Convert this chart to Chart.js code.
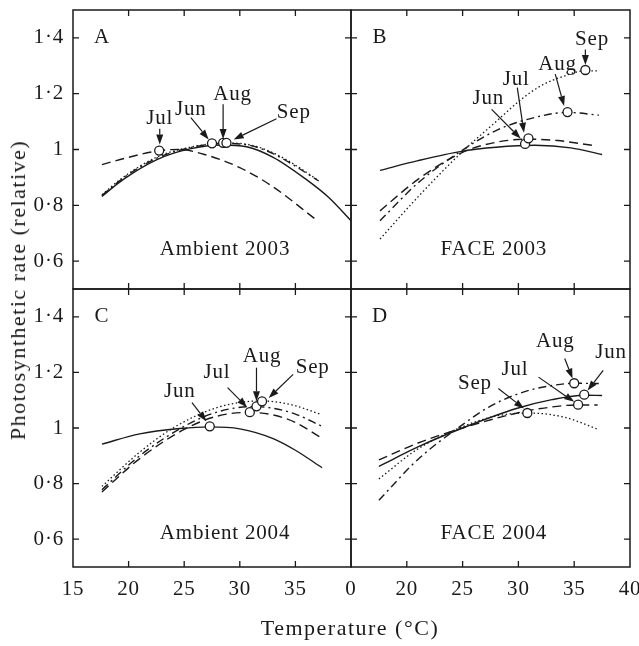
<!DOCTYPE html>
<html>
<head>
<meta charset="utf-8">
<script src="https://cdn.jsdelivr.net/npm/chart.js@4.4.1/dist/chart.umd.min.js"></script>
<style>
  html, body { margin: 0; padding: 0; background: #fff; }
  #wrap { position: relative; width: 639px; height: 646px; overflow: hidden; }
  #wrap canvas { position: absolute; left: 0; top: 0; }
  .ttl { position: absolute; font: 22px "Liberation Serif", serif; letter-spacing: 1.5px; white-space: nowrap; color: #1a1a1a; }
  #ytitle { left: 18px; top: 290px; transform: translate(-50%, -50%) rotate(-90deg); }
  #xtitle { left: 350px; top: 628px; transform: translate(-50%, -50%); }
</style>
</head>
<body>
<div id="wrap">
  <canvas id="panelA" width="639" height="646"></canvas>
  <canvas id="panelB" width="639" height="646"></canvas>
  <canvas id="panelC" width="639" height="646"></canvas>
  <canvas id="panelD" width="639" height="646"></canvas>
  <div class="ttl" id="ytitle">Photosynthetic rate (relative)</div>
  <div class="ttl" id="xtitle">Temperature (°C)</div>
</div>
<script>
// ticks
var tempTicks = [15, 20, 25, 30, 35, 40];
var rateTicks = [0.6, 0.8, 1.0, 1.2, 1.4];
var months = ['Jun', 'Jul', 'Aug', 'Sep'];

// A - Ambient 2003
var tA_Jun = [17.6, 19.5, 22.5, 25.5, 28.3, 30.6, 33, 36, 38, 40];
var rA_Jun = [0.832, 0.892, 0.963, 1.002, 1.016, 1.01, 0.972, 0.892, 0.828, 0.745];
var tA_Jul = [17.6, 20, 22.75, 24.5, 27, 30, 33, 36.8];
var rA_Jul = [0.946, 0.972, 0.996, 1.0, 0.98, 0.935, 0.866, 0.75];
var tA_Aug = [17.6, 19.5, 22.5, 25.5, 28.5, 31, 33, 35, 37.1];
var rA_Aug = [0.835, 0.897, 0.968, 1.006, 1.022, 1.014, 0.985, 0.94, 0.887];
var tA_Sep = [17.6, 19.5, 22.5, 25.5, 28.8, 31, 33, 35, 37.1];
var rA_Sep = [0.838, 0.9, 0.972, 1.008, 1.023, 1.016, 0.988, 0.944, 0.888];
var optTA = [27.5, 22.75, 28.5, 28.8];
var optRA = [1.022, 0.996, 1.024, 1.024];

// B - FACE 2003
var tB_Jun = [17.6, 21, 25, 28, 31.5, 34.7, 37.5];
var rB_Jun = [0.925, 0.96, 0.994, 1.008, 1.015, 1.006, 0.982];
var tB_Jul = [17.6, 21, 25, 28, 30.9, 33.5, 36.6];
var rB_Jul = [0.78, 0.893, 0.99, 1.026, 1.037, 1.032, 1.015];
var tB_Aug = [17.6, 21, 25, 28, 31, 34.4, 37.2];
var rB_Aug = [0.745, 0.88, 0.998, 1.068, 1.11, 1.133, 1.123];
var tB_Sep = [17.6, 21, 25, 28, 30.2, 32, 34, 36, 37.2];
var rB_Sep = [0.679, 0.83, 0.993, 1.1, 1.178, 1.228, 1.262, 1.282, 1.282];
var optTB = [30.6, 30.9, 34.4, 36.0];
var optRB = [1.02, 1.04, 1.134, 1.285];

// C - Ambient 2004
var tC_Jun = [17.6, 21, 24.6, 27.3, 30, 33, 35, 37.4];
var rC_Jun = [0.942, 0.979, 0.998, 1.004, 0.997, 0.962, 0.92, 0.857];
var tC_Jul = [17.6, 21, 25, 28, 30.7, 33, 35, 37.2];
var rC_Jul = [0.77, 0.89, 0.995, 1.043, 1.056, 1.047, 1.02, 0.968];
var tC_Aug = [17.6, 21, 25, 28, 31.2, 33, 35, 37.3];
var rC_Aug = [0.778, 0.9, 1.006, 1.058, 1.077, 1.071, 1.05, 1.008];
var tC_Sep = [17.6, 21, 24, 28, 31.8, 33, 35, 37.2];
var rC_Sep = [0.79, 0.913, 1.0, 1.074, 1.097, 1.095, 1.08, 1.05];
var optTC = [27.3, 30.9, 31.5, 32.0];
var optRC = [1.006, 1.057, 1.078, 1.096];

// D - FACE 2004
var tD_Jun = [17.5, 21, 25, 29.9, 33, 35.9, 37.5];
var rD_Jun = [0.862, 0.932, 1.0, 1.071, 1.102, 1.118, 1.117];
var tD_Jul = [17.5, 21, 25, 30, 32, 35.35, 37.1];
var rD_Jul = [0.885, 0.946, 1.0, 1.055, 1.07, 1.083, 1.083];
var tD_Aug = [17.5, 21, 25, 27.5, 30.5, 33.2, 35, 37.2];
var rD_Aug = [0.74, 0.887, 1.012, 1.079, 1.13, 1.154, 1.161, 1.16];
var tD_Sep = [17.5, 21, 25, 28, 30.8, 34.1, 37.1];
var rD_Sep = [0.817, 0.925, 1.005, 1.043, 1.054, 1.039, 0.996];
var optTD = [35.9, 35.35, 35.0, 30.8];
var optRD = [1.12, 1.084, 1.161, 1.054];

var ink = '#1a1a1a';
var serif = 'Liberation Serif';

// line style per month
var dashes = { Jun: [], Jul: [9, 5], Aug: [8, 4, 2, 4], Sep: [1.5, 2.5] };

// month labels with arrows: text pos, arrow start, arrow tip (data units)
var notes = {
  panelA: [
    ['Jul', 22.8, 1.11, 22.8, 1.074, 22.8, 1.018],
    ['Jun', 25.6, 1.144, 25.6, 1.114, 27.2, 1.036],
    ['Aug', 29.35, 1.198, 28.5, 1.162, 28.5, 1.038],
    ['Sep', 34.85, 1.132, 33.3, 1.11, 29.45, 1.036]
  ],
  panelB: [
    ['Jun', 27.3, 1.184, 27.6, 1.144, 30.2, 1.039],
    ['Jul', 29.8, 1.252, 29.9, 1.222, 30.5, 1.06],
    ['Aug', 33.5, 1.303, 33.3, 1.27, 34.1, 1.156],
    ['Sep', 36.6, 1.394, 36.0, 1.358, 36.0, 1.303]
  ],
  panelC: [
    ['Jun', 24.6, 1.132, 25.7, 1.091, 27.0, 1.024],
    ['Jul', 27.95, 1.198, 28.9, 1.145, 30.65, 1.075],
    ['Aug', 32.0, 1.258, 31.5, 1.217, 31.5, 1.096],
    ['Sep', 36.55, 1.217, 34.8, 1.193, 32.6, 1.108]
  ],
  panelD: [
    ['Aug', 33.3, 1.313, 34.15, 1.25, 34.85, 1.178],
    ['Jun', 38.3, 1.271, 37.6, 1.207, 36.2, 1.135],
    ['Jul', 29.7, 1.211, 31.8, 1.183, 35.0, 1.094],
    ['Sep', 26.1, 1.16, 28.2, 1.142, 30.5, 1.07]
  ]
};

function arrow(ctx, x1, y1, x2, y2) {
  var ang = Math.atan2(y2 - y1, x2 - x1), L = 10, W = 3.5;
  var bx = x2 - L * Math.cos(ang), by = y2 - L * Math.sin(ang);
  ctx.beginPath();
  ctx.moveTo(x1, y1);
  ctx.lineTo(bx, by);
  ctx.stroke();
  ctx.beginPath();
  ctx.moveTo(x2, y2);
  ctx.lineTo(bx - W * Math.sin(ang), by + W * Math.cos(ang));
  ctx.lineTo(bx + W * Math.sin(ang), by - W * Math.cos(ang));
  ctx.closePath();
  ctx.fill();
}

var panelPlugin = {
  id: 'panel',
  beforeDraw: function (chart) {
    chart.ctx.letterSpacing = '0.8px';
  },
  afterDatasetsDraw: function (chart) {
    var ctx = chart.ctx, a = chart.chartArea, x = chart.scales.x, y = chart.scales.y;
    var info = chart.config._config.panelInfo;
    ctx.save();
    ctx.strokeStyle = ink;
    ctx.fillStyle = ink;
    ctx.lineWidth = 1.5;
    ctx.strokeRect(a.left, a.top, a.right - a.left, a.bottom - a.top);

    // inward ticks
    ctx.lineWidth = 1.3;
    ctx.beginPath();
    tempTicks.forEach(function (v) {
      if (v <= 15 || v >= 40) return;
      var px = x.getPixelForValue(v);
      ctx.moveTo(px, a.top); ctx.lineTo(px, a.top + 6);
      ctx.moveTo(px, a.bottom); ctx.lineTo(px, a.bottom - 6);
    });
    rateTicks.forEach(function (v) {
      var py = y.getPixelForValue(v);
      ctx.moveTo(a.left, py); ctx.lineTo(a.left + 6, py);
      ctx.moveTo(a.right, py); ctx.lineTo(a.right - 6, py);
    });
    ctx.stroke();

    ctx.font = '21px "' + serif + '"';
    ctx.textAlign = 'center';
    ctx.textBaseline = 'middle';
    ctx.fillText(info.letter, x.getPixelForValue(17.6), y.getPixelForValue(1.4));
    ctx.fillText(info.title, x.getPixelForValue(info.titleAt[0]), y.getPixelForValue(info.titleAt[1]));

    ctx.lineWidth = 1.2;
    notes[chart.canvas.id].forEach(function (n) {
      ctx.fillText(n[0], x.getPixelForValue(n[1]), y.getPixelForValue(n[2]));
      arrow(ctx, x.getPixelForValue(n[3]), y.getPixelForValue(n[4]),
        x.getPixelForValue(n[5]), y.getPixelForValue(n[6]));
    });
    ctx.restore();
  }
};

function pts(t, r) {
  return t.map(function (v, i) { return { x: v, y: r[i] }; });
}

function makePanel(id, curves, optT, optR, info, pad, showX, showY, xLabel) {
  var datasets = [{
    label: 'optimum',
    data: pts(optT, optR),
    showLine: false,
    pointRadius: 4.5,
    pointBackgroundColor: '#fff',
    pointBorderColor: ink,
    pointBorderWidth: 1.3,
    order: 0
  }];
  months.forEach(function (m, i) {
    datasets.push({
      label: m,
      data: pts(curves[i][0], curves[i][1]),
      borderColor: ink,
      borderWidth: m === 'Sep' ? 1.3 : 1.4,
      borderDash: dashes[m],
      pointRadius: 0,
      fill: false,
      cubicInterpolationMode: 'monotone',
      order: 1
    });
  });

  var cfg = {
    type: 'line',
    data: { datasets: datasets },
    options: {
      responsive: false,
      animation: false,
      events: [],
      layout: { padding: pad },
      plugins: { legend: { display: false }, tooltip: { enabled: false } },
      scales: {
        x: {
          type: 'linear', min: 15, max: 40, display: showX,
          grid: { display: false, drawTicks: false },
          border: { display: false },
          afterBuildTicks: function (s) { s.ticks = tempTicks.map(function (v) { return { value: v }; }); },
          afterFit: function (s) { s.height = showX ? 40 : 0; s.paddingLeft = 0; s.paddingRight = 0; },
          ticks: {
            autoSkip: false, maxRotation: 0, padding: 10, color: ink,
            font: { family: serif, size: 21 },
            callback: xLabel
          }
        },
        y: {
          type: 'linear', min: 0.5, max: 1.5, display: showY,
          grid: { display: false, drawTicks: false },
          border: { display: false },
          afterBuildTicks: function (s) { s.ticks = rateTicks.map(function (v) { return { value: v }; }); },
          afterFit: function (s) { s.width = showY ? 73 : 0; s.paddingTop = 0; s.paddingBottom = 0; },
          ticks: {
            padding: 9, color: ink,
            font: { family: serif, size: 21 },
            callback: function (v) { return v === 1 ? '1' : v.toFixed(1).replace('.', '\u00b7'); }
          }
        }
      }
    },
    plugins: [panelPlugin]
  };
  cfg.panelInfo = info;
  return new Chart(document.getElementById(id), cfg);
}

makePanel('panelA',
  [[tA_Jun, rA_Jun], [tA_Jul, rA_Jul], [tA_Aug, rA_Aug], [tA_Sep, rA_Sep]],
  optTA, optRA, { letter: 'A', title: 'Ambient 2003', titleAt: [28.67, 0.64] },
  { left: 0, top: 10, right: 288, bottom: 357 }, false, true);

makePanel('panelB',
  [[tB_Jun, rB_Jun], [tB_Jul, rB_Jul], [tB_Aug, rB_Aug], [tB_Sep, rB_Sep]],
  optTB, optRB, { letter: 'B', title: 'FACE 2003', titleAt: [27.8, 0.64] },
  { left: 351, top: 10, right: 9, bottom: 357 }, false, false);

makePanel('panelC',
  [[tC_Jun, rC_Jun], [tC_Jul, rC_Jul], [tC_Aug, rC_Aug], [tC_Sep, rC_Sep]],
  optTC, optRC, { letter: 'C', title: 'Ambient 2004', titleAt: [28.67, 0.622] },
  { left: 0, top: 289, right: 288, bottom: 39 }, true, true,
  function (v) { return v === 40 ? '0' : String(v); });

makePanel('panelD',
  [[tD_Jun, rD_Jun], [tD_Jul, rD_Jul], [tD_Aug, rD_Aug], [tD_Sep, rD_Sep]],
  optTD, optRD, { letter: 'D', title: 'FACE 2004', titleAt: [27.8, 0.622] },
  { left: 351, top: 289, right: 9, bottom: 39 }, true, false,
  function (v) { return v === 15 ? '' : String(v); });
</script>
</body>
</html>
